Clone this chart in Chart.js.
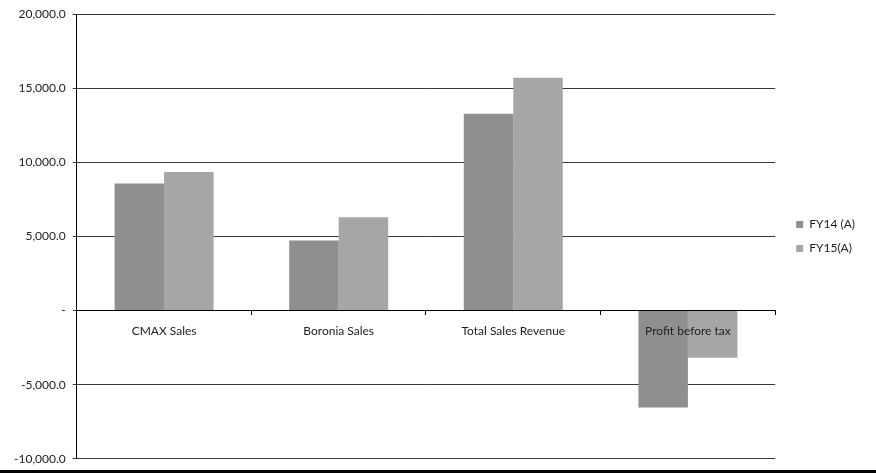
<!DOCTYPE html>
<html>
<head>
<meta charset="utf-8">
<script src="https://cdn.jsdelivr.net/npm/chart.js@4"></script>
<style>
  html, body { margin: 0; padding: 0; background: #fff; }
  .wrap { position: relative; width: 876px; height: 473px; }
  .wrap .line { position: absolute; left: 0; bottom: 0; width: 876px; height: 3px; background: #000; }
</style>
</head>
<body>
<div class="wrap"><canvas id="myChart" width="876" height="473"></canvas><div class="line"></div></div>
<script>
const categories = ['CMAX Sales', 'Boronia Sales', 'Total Sales Revenue', 'Profit before tax']
const fy14 = [8580, 4730, 13290, -6540]
const fy15 = [9360, 6300, 15710, -3180]
const seriesNames = ['FY14 (A)', 'FY15(A)']

Chart.defaults.font.family = 'Lato, "DejaVu Sans", sans-serif'
Chart.defaults.font.size = 12
Chart.defaults.color = '#222'

const ctx = document.getElementById('myChart').getContext('2d')

function fmt(v){
    if(v === 0) return '-'
    return v.toLocaleString('en-US', {minimumFractionDigits: 1, maximumFractionDigits: 1})
}

const options = {
    type: 'bar',
    data: {
        labels: categories,
        datasets: [{
            label: seriesNames[0],
            data: fy14,
            backgroundColor: '#8f8f8f',
            borderWidth: 0
        }, {
            label: seriesNames[1],
            data: fy15,
            backgroundColor: '#a6a6a6',
            borderWidth: 0
        }]
    },
    options: {
        responsive: false,
        animation: false,
        layout: { padding: { top: 0, bottom: 0, left: 7, right: 11 } },
        plugins: {
            tooltip: { enabled: false },
            legend: {
                position: 'right',
                labels: {
                    boxWidth: 7,
                    boxHeight: 7,
                    padding: 12
                }
            }
        },
        datasets: {
            bar: { categoryPercentage: 0.567, barPercentage: 1 }
        },
        scales: {
            x: {
                position: { y: 0 },
                grid: { display: true, drawOnChartArea: false, tickLength: 4, color: '#000', offset: true },
                border: { color: '#000', width: 1 },
                ticks: { padding: 9, color: '#222', z: 1, autoSkip: false, maxRotation: 0 }
            },
            y: {
                min: -10000,
                max: 20000,
                ticks: { stepSize: 5000, callback: fmt, padding: 7, color: '#222' },
                grid: { color: '#3a3a3a', tickLength: 4 },
                border: { color: '#000', width: 1 }
            },
            // empty axis on the right, only to keep a gap before the legend
            gap: {
                position: 'right',
                display: true,
                ticks: { display: false },
                grid: { display: false },
                border: { display: false },
                afterFit: function(s){ s.width = 9 }
            }
        }
    }
}

const myChart = new Chart(ctx, options)
</script>
</body>
</html>
